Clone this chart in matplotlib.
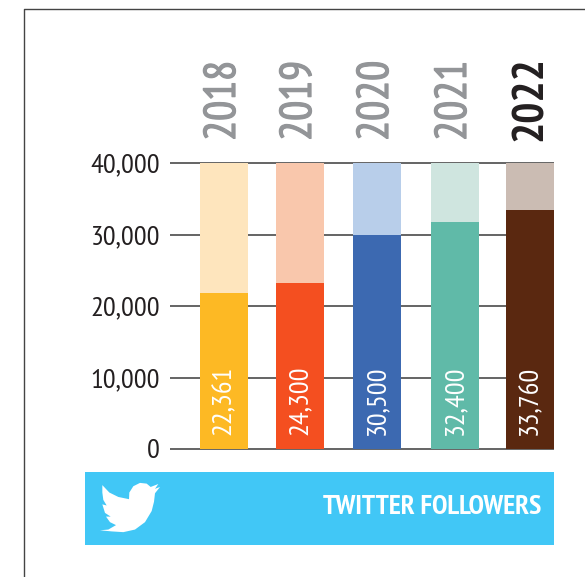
import matplotlib
matplotlib.use("Agg")
import matplotlib.pyplot as plt
import matplotlib.patheffects as pe
from matplotlib.patches import Rectangle, PathPatch
from matplotlib.path import Path
from matplotlib.transforms import Affine2D

years = ["2018", "2019", "2020", "2021", "2022"]
bar_heights = [21800, 23250, 30000, 31700, 33400]
bar_labels = ["22,361", "24,300", "30,500", "32,400", "33,760"]
y_ticks = [0, 10000, 20000, 30000, 40000]
y_tick_labels = ["0", "10,000", "20,000", "30,000", "40,000"]
strong = ["#FDB924", "#F44F20", "#3C69B1", "#60BAA8", "#5A2810"]
light = ["#FEE5BD", "#F9C7AC", "#B8CEEA", "#CFE5DF", "#CBBCB3"]
bar_left = [200, 276, 353, 431, 506]
BAR_W = 48
W, H = 585, 577
AX_L = 160
plt.rcParams["font.family"] = ["PT Sans Narrow", "Liberation Sans"]

fig = plt.figure(figsize=(W/100, H/100), dpi=100)
page = fig.add_axes([0, 0, 1, 1])
page.set_xlim(0, W); page.set_ylim(H, 0); page.axis("off")
page.plot([23.5, 23.5, W], [H, 8.5, 8.5], color="#444444", lw=1.0)
page.add_patch(Rectangle((85, 472), 469, 72.5, color="#41C7F6", lw=0))
page.text(541, 506.5, "TWITTER FOLLOWERS", color="white", fontsize=20, weight="bold",
          ha="right", va="center")

# bird icon outline, in zoomed-crop units
bird = [(37,30),(58,50),(85,62),(117,68),(118,50),(130,33),(150,24),(170,26),(182,35),(205,27),(195,40),
        (210,35),(195,52),(192,75),(185,100),(165,130),(135,150),(100,157),(65,155),(30,152),(55,150),
        (78,138),(60,130),(48,115),(62,115),(45,105),(37,82),(50,85),(40,70),(37,50),(37,30)]
codes = [Path.MOVETO] + [Path.LINETO]*(len(bird)-2) + [Path.CLOSEPOLY]
page.add_patch(PathPatch(Path(bird, codes), facecolor="white", lw=0,
                         transform=Affine2D().scale(1/3, 1/2.7).translate(90, 474) + page.transData))

# chart axes: 0 at y=449 px and 40000 at y=163 px
ax = fig.add_axes([AX_L/W, 1-449/H, 1-AX_L/W, (449-163)/H], facecolor="none")
ax.set_xlim(AX_L, W); ax.set_ylim(0, 40000)
for s in ax.spines.values():
    s.set_visible(False)
ax.set_xticks([])
ax.set_yticks(y_ticks)
ax.set_yticklabels(y_tick_labels, fontsize=20.5, color="#231F20")
ax.tick_params(axis="y", length=0, pad=0)
ax.hlines(y_ticks, 170, 554, color="#3A3A3A", lw=1.1, zorder=1, clip_on=False)
for i, yr in enumerate(years):
    x = bar_left[i]
    ax.bar(x, 40000, width=BAR_W, align="edge", color=light[i], zorder=2)
    ax.bar(x, bar_heights[i], width=BAR_W, align="edge", color=strong[i], zorder=3)
    ax.text(x+BAR_W/2, 1900, bar_labels[i], rotation=90, color="white", fontsize=20.5,
            ha="center", va="bottom", zorder=4)
    last = i == len(years)-1
    col = "#231F20" if last else "#939598"
    t = ax.text(x+BAR_W/2+(1 if last else 0), 43100, yr, rotation=90, fontsize=32, ha="center", va="bottom",
                color=col, weight="bold" if last else "normal", clip_on=False)
    if not last:
        t.set_path_effects([pe.withStroke(linewidth=0.9, foreground=col)])
fig.savefig("out.png", dpi=100)
